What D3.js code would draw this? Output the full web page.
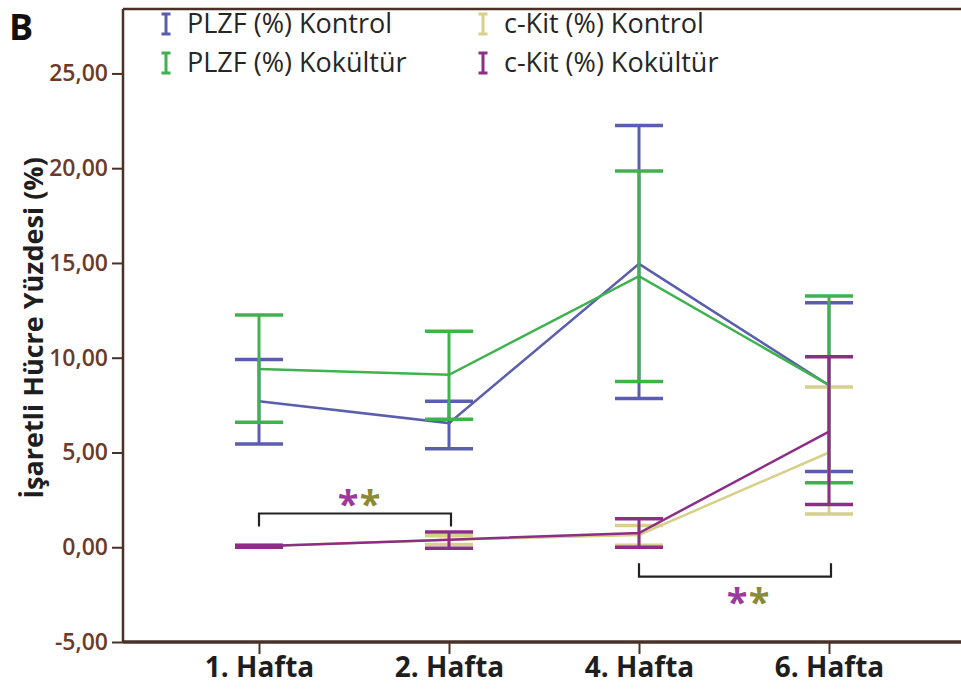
<!DOCTYPE html>
<html>
<head>
<meta charset="utf-8">
<script src="https://cdn.jsdelivr.net/npm/d3@7"></script>
<style>
  body { margin: 0; background: #fff; }
  text { font-family: "Open Sans", "DejaVu Sans", sans-serif; }
</style>
</head>
<body>
<script>
// weeks on x axis
var weeks = ["1. Hafta", "2. Hafta", "4. Hafta", "6. Hafta"];

// means and error bar ends
var plzfKontrol     = [7.7, 6.55, 14.95, 8.55];
var plzfKontrolLow  = [5.45, 5.2, 7.85, 4.0];
var plzfKontrolHigh = [9.9, 7.7, 22.25, 12.9];

var plzfKokultur     = [9.4, 9.1, 14.3, 8.55];
var plzfKokulturLow  = [6.6, 6.75, 8.75, 3.4];
var plzfKokulturHigh = [12.25, 11.4, 19.85, 13.25];

var ckitKontrol     = [0.05, 0.4, 0.65, 5.0];
var ckitKontrolLow  = [0.0, 0.15, 0.1, 1.75];
var ckitKontrolHigh = [0.1, 0.6, 1.15, 8.45];

var ckitKokultur     = [0.05, 0.4, 0.75, 6.1];
var ckitKokulturLow  = [0.0, -0.05, 0.0, 2.25];
var ckitKokulturHigh = [0.1, 0.8, 1.5, 10.05];

var yTicks = [-5, 0, 5, 10, 15, 20, 25];

var width = 961, height = 691;

var series = [
  {name: "PLZF (%) Kontrol",  color: "#5b5eae", mean: plzfKontrol,  low: plzfKontrolLow,  high: plzfKontrolHigh},
  {name: "PLZF (%) Kokültür", color: "#3fb24e", mean: plzfKokultur, low: plzfKokulturLow, high: plzfKokulturHigh},
  {name: "c-Kit (%) Kontrol",  color: "#d6d08a", mean: ckitKontrol,  low: ckitKontrolLow,  high: ckitKontrolHigh},
  {name: "c-Kit (%) Kokültür", color: "#8c2e86", mean: ckitKokultur, low: ckitKokulturLow, high: ckitKokulturHigh}
];

var svg = d3.select("body").append("svg")
  .attr("width", width)
  .attr("height", height);

var x = d3.scalePoint().domain(weeks).range([259, 829]);
var y = d3.scaleLinear().domain([-5, 28.4]).range([642, 9]);

var axisColor = "#4a3026";

// frame: top border
svg.append("line")
  .attr("x1", 123).attr("x2", width).attr("y1", 9).attr("y2", 9)
  .attr("stroke", axisColor).attr("stroke-width", 2.5);

// y axis
var yAxis = svg.append("g")
  .attr("transform", "translate(123,0)")
  .call(d3.axisLeft(y).tickValues(yTicks).tickSize(11).tickPadding(4)
    .tickFormat(function(d){ return d.toFixed(2).replace(".", ","); }));
yAxis.select(".domain").attr("d", "M0,9V642").attr("stroke", axisColor).attr("stroke-width", 2.5);
yAxis.selectAll(".tick line").attr("stroke", axisColor).attr("stroke-width", 2);
yAxis.selectAll(".tick text")
  .attr("fill", "#6a3b2b")
  .style("font-size", "23px")
  .style("font-weight", "600")
  .style("font-family", "'Open Sans', sans-serif");

// x axis
var xAxis = svg.append("g")
  .attr("transform", "translate(0,642)")
  .call(d3.axisBottom(x).tickSize(12));
xAxis.select(".domain").attr("d", "M123,0H" + width).attr("stroke", axisColor).attr("stroke-width", 3.5);
xAxis.selectAll(".tick line").attr("stroke", axisColor).attr("stroke-width", 2);
xAxis.selectAll(".tick text")
  .attr("fill", "#1e1e1e")
  .attr("y", 35)
  .attr("dy", 0)
  .style("font-size", "28px")
  .style("font-weight", "bold")
  .style("font-family", "'Open Sans', sans-serif");

// y axis title
svg.append("text")
  .attr("transform", "translate(43,328) rotate(-90)")
  .attr("text-anchor", "middle")
  .attr("fill", "#1e1e1e")
  .style("font-size", "27px")
  .style("font-weight", "bold")
  .text("İşaretli Hücre Yüzdesi (%)");

// panel letter
svg.append("text")
  .attr("x", 9).attr("y", 40)
  .attr("fill", "#111")
  .style("font-size", "36px")
  .style("font-weight", "bold")
  .text("B");

var capHalf = 24;
var drawOrder = [0, 2, 1, 3];

var line = d3.line()
  .x(function(d){ return x(d.week); })
  .y(function(d){ return y(d.v); });

drawOrder.forEach(function(si){
  var s = series[si];
  var pts = weeks.map(function(w, i){
    return {week: w, v: s.mean[i], lo: s.low[i], hi: s.high[i]};
  });
  var g = svg.append("g");
  // error bars
  g.selectAll("line.bar").data(pts).enter().append("line")
    .attr("x1", function(d){ return x(d.week); })
    .attr("x2", function(d){ return x(d.week); })
    .attr("y1", function(d){ return y(d.lo); })
    .attr("y2", function(d){ return y(d.hi); })
    .attr("stroke", s.color).attr("stroke-width", 3);
  ["lo", "hi"].forEach(function(k){
    g.selectAll("line.cap" + k).data(pts).enter().append("line")
      .attr("x1", function(d){ return x(d.week) - capHalf; })
      .attr("x2", function(d){ return x(d.week) + capHalf; })
      .attr("y1", function(d){ return y(d[k]); })
      .attr("y2", function(d){ return y(d[k]); })
      .attr("stroke", s.color).attr("stroke-width", 3.5);
  });
  g.append("path").datum(pts)
    .attr("d", line)
    .attr("fill", "none")
    .attr("stroke", s.color)
    .attr("stroke-width", 2.5);
});

// significance brackets
var brackets = [
  {from: "1. Hafta", to: "2. Hafta", level: 1.78, end: 1.1, starY: 2.5, starDx: 4},
  {from: "4. Hafta", to: "6. Hafta", level: -1.55, end: -0.85, starY: -2.7, starDx: 13}
];
brackets.forEach(function(b){
  var x1 = x(b.from), x2 = x(b.to) + 2;
  svg.append("path")
    .attr("d", "M" + x1 + "," + y(b.end) + "V" + y(b.level) + "H" + x2 + "V" + y(b.end))
    .attr("fill", "none").attr("stroke", "#222").attr("stroke-width", 2.2);
  var cx = (x1 + x2) / 2 + b.starDx;
  svg.append("text").attr("x", cx - 11).attr("y", y(b.starY) + 18)
    .attr("text-anchor", "middle").attr("fill", "#9a3a9a")
    .style("font-size", "38px").style("font-weight", "bold").text("*");
  svg.append("text").attr("x", cx + 11).attr("y", y(b.starY) + 18)
    .attr("text-anchor", "middle").attr("fill", "#8a8a34")
    .style("font-size", "38px").style("font-weight", "bold").text("*");
});

// legend
var legendPos = [[166, 24], [166, 63], [483, 24], [483, 63]];
series.forEach(function(s, i){
  var p = legendPos[i];
  var lg = svg.append("g").attr("transform", "translate(" + p[0] + "," + p[1] + ")");
  lg.append("path")
    .attr("d", "M-4.5,-10H4.5M0,-10V10M-4.5,10H4.5")
    .attr("fill", "none").attr("stroke", s.color).attr("stroke-width", 3);
  lg.append("text")
    .attr("x", 21).attr("y", 9)
    .attr("fill", "#262626")
    .style("font-size", "27px")
    .text(s.name);
});
</script>
</body>
</html>
